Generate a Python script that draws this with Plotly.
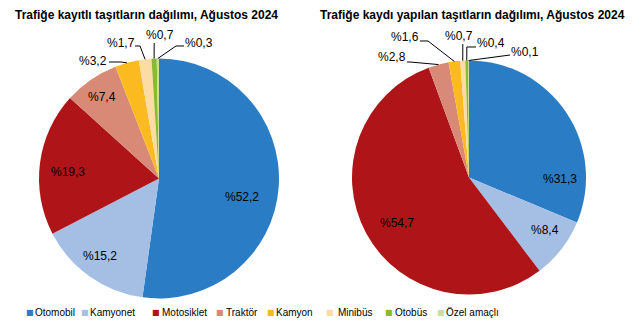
import math
import plotly.graph_objects as go

W, H = 635, 330

# ---------------- data ----------------
categories = ["Otomobil", "Kamyonet", "Motosiklet", "Traktör",
              "Kamyon", "Minibüs", "Otobüs", "Özel amaçlı"]
registered_share = [52.2, 15.2, 19.3, 7.4, 3.2, 1.7, 0.7, 0.3]
newly_registered_share = [31.3, 8.4, 54.7, 2.8, 1.6, 0.7, 0.4, 0.1]
titles = ["Trafiğe kayıtlı taşıtların dağılımı, Ağustos 2024",
          "Trafiğe kaydı yapılan taşıtların dağılımı, Ağustos 2024"]

# ---------------- styles / layout ----------------
colors = ["#2A7DC4", "#A5BEE3", "#AF1518", "#D98A77",
          "#FBBA1F", "#FDDCA4", "#8CBA2E", "#C9DF9F"]
FONT = "Liberation Sans, Arial, sans-serif"

# pie geometry in pixels: centre x, centre y, radius
geom = [dict(cx=159, cy=178.5, r=120), dict(cx=469, cy=177.5, r=117)]
title_pos = [(146, 15), (472, 15)]

# label placement per slice: ("in", (x, y)) or ("out", (x, y), [leader points before slice edge])
label_place = [
    [("in", (242, 197)), ("in", (100, 256)), ("in", (68, 172)), ("in", (102, 97)),
     ("out", (93, 61), [(109, 62), (121, 62)]),
     ("out", (121, 43), [(135, 46), (140, 46)]),
     ("out", (160, 35), [(154.2, 43)]),
     ("out", (199, 43), [(184, 46), (176, 46)])],
    [("in", (560, 179)), ("in", (545, 230)), ("in", (397, 223)),
     ("out", (392, 57), [(407, 62), (410, 62)]),
     ("out", (405, 37), [(420, 41), (428, 41)]),
     ("out", (459, 36), [(462.8, 44)]),
     ("out", (491, 43), [(476, 47), (466.8, 47)]),
     ("out", (525, 52), [(510, 55)])],
]
legend_sq_x = [29.5, 85, 155.5, 220, 270.5, 329.5, 389, 440.5]
legend_txt_x = [33, 88, 160, 224, 274, 336, 393, 444]
legend_y = 312


def P(x, y):
    return x / W, 1 - y / H


def fmt(v):
    return "%" + f"{v:.1f}".replace(".", ",")


fig = go.Figure()
annotations = []
shapes = []

for k, values in enumerate([registered_share, newly_registered_share]):
    g = geom[k]
    cx, cy, r = g["cx"], g["cy"], g["r"]
    fig.add_trace(go.Pie(
        labels=categories, values=values, sort=False, direction="clockwise",
        rotation=0, textinfo="none", hoverinfo="label+percent",
        marker=dict(colors=colors, line=dict(width=0)),
        showlegend=False,
        domain=dict(x=[(cx - r) / W, (cx + r) / W],
                    y=[1 - (cy + r) / H, 1 - (cy - r) / H]),
    ))
    total = sum(values)
    cum = 0
    for i, v in enumerate(values):
        mid = (cum + v / 2) / total * 2 * math.pi
        cum += v
        place = label_place[k][i]
        tx, ty = P(*place[1])
        annotations.append(dict(x=tx, y=ty, xref="paper", yref="paper",
                                xanchor="center", yanchor="middle",
                                text=fmt(v), showarrow=False,
                                font=dict(family=FONT, size=12, color="#000000")))
        if place[0] == "out":
            ex = cx + r * math.sin(mid)
            ey = cy - r * math.cos(mid)
            pts = place[2] + [(ex, ey)]
            path = "M " + " L ".join(f"{P(x, y)[0]:.5f},{P(x, y)[1]:.5f}" for x, y in pts)
            shapes.append(dict(type="path", path=path, xref="paper", yref="paper",
                               line=dict(color="#000000", width=1)))
    tx, ty = P(*title_pos[k])
    annotations.append(dict(x=tx, y=ty, xref="paper", yref="paper",
                            xanchor="center", yanchor="middle",
                            text="<b>" + titles[k] + "</b>", showarrow=False,
                            font=dict(family=FONT, size=12, color="#000000")))

# legend
for i, name in enumerate(categories):
    sx, sy = P(legend_sq_x[i], legend_y)
    annotations.append(dict(x=sx, y=sy, xref="paper", yref="paper", text="■",
                            showarrow=False, xanchor="center", yanchor="middle",
                            font=dict(family="DejaVu Sans", size=8, color=colors[i])))
    tx, ty = P(legend_txt_x[i], legend_y)
    annotations.append(dict(x=tx, y=ty, xref="paper", yref="paper", text=name,
                            showarrow=False, xanchor="left", yanchor="middle",
                            font=dict(family=FONT, size=10, color="#000000")))

fig.update_layout(
    width=W, height=H,
    margin=dict(l=0, r=0, t=0, b=0),
    paper_bgcolor="white", plot_bgcolor="white",
    annotations=annotations, shapes=shapes,
)

fig.write_html("out.html")
